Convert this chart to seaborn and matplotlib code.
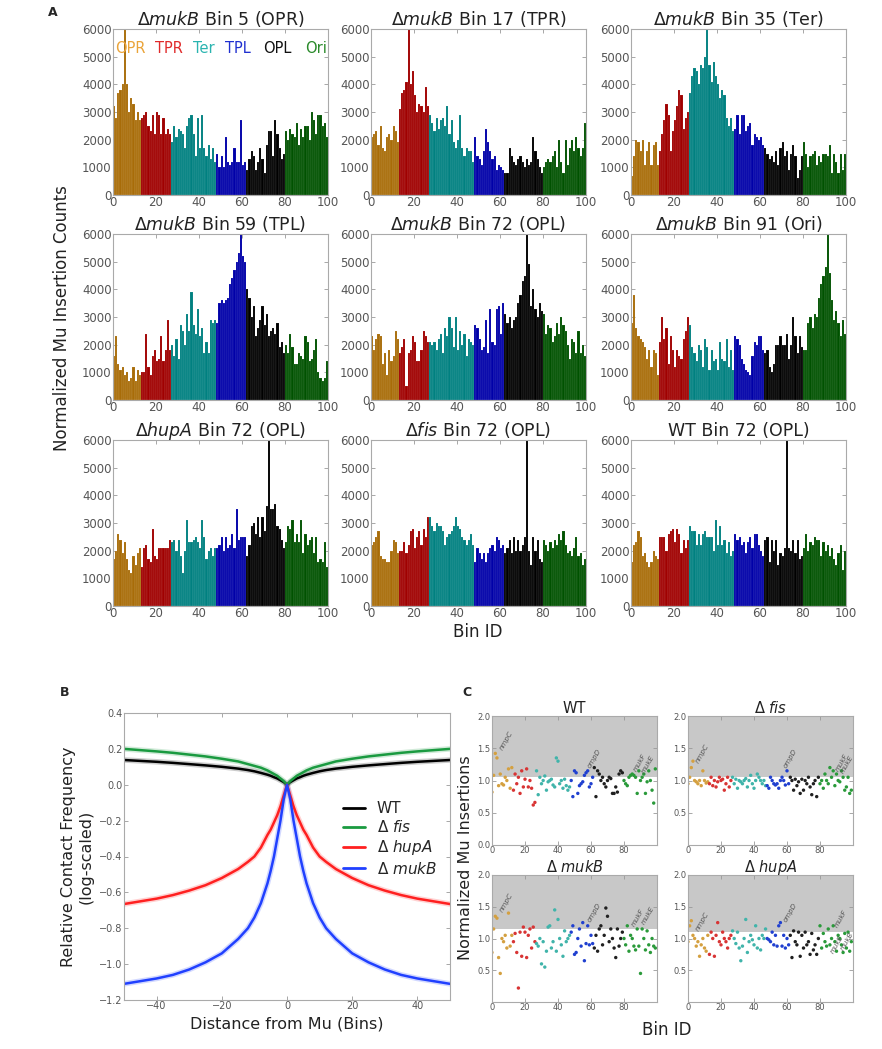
import numpy as np
import pandas as pd
import matplotlib
matplotlib.use("Agg")
import matplotlib.pyplot as plt
import seaborn as sns

# ---------------------------------------------------------------
# data
# ---------------------------------------------------------------
region_names = ["OPR", "TPR", "Ter", "TPL", "OPL", "Ori"]
region_sizes = [13, 14, 21, 14, 18, 20]          # bins per macrodomain
bins = np.arange(100)

# Panel A, Mu insertion counts per bin (in hundreds), bins 0..99
mukB_bin5 = [32, 28, 37, 38, 40, 60, 40, 30, 35, 33, 27, 30, 27,
             28, 29, 30, 25, 23, 29, 22, 30, 29, 22, 28, 22, 24, 22,
             19, 25, 21, 24, 23, 22, 17, 25, 28, 29, 22, 14, 28, 17, 29, 17, 14, 18, 13, 17, 12,
             15, 10, 14, 10, 21, 12, 11, 12, 17, 12, 12, 27, 11, 12,
             9, 13, 16, 14, 9, 12, 17, 13, 8, 18, 23, 23, 14, 27, 22, 17, 13, 15,
             23, 20, 24, 22, 21, 26, 18, 24, 21, 25, 25, 20, 30, 27, 22, 29, 29, 25, 26, 21]
mukB_bin17 = [21, 22, 23, 18, 25, 17, 16, 21, 22, 20, 25, 23, 19,
              31, 37, 38, 41, 60, 40, 45, 36, 30, 33, 32, 30, 39, 32,
              29, 26, 23, 28, 24, 27, 28, 25, 32, 22, 27, 19, 17, 20, 29, 17, 14, 17, 16, 16, 12,
              21, 14, 13, 11, 16, 24, 19, 16, 13, 14, 9, 11, 10, 9,
              8, 8, 17, 14, 12, 11, 13, 14, 12, 10, 13, 11, 12, 21, 16, 13, 10, 8,
              10, 12, 13, 12, 14, 16, 10, 20, 12, 8, 20, 11, 17, 20, 16, 21, 17, 14, 17, 26]
mukB_bin35 = [7, 14, 20, 19, 16, 20, 11, 16, 19, 11, 18, 19, 11,
              16, 22, 27, 33, 29, 16, 23, 27, 32, 38, 36, 24, 28, 30,
              37, 43, 46, 45, 40, 47, 46, 50, 60, 47, 41, 48, 43, 40, 35, 38, 36, 28, 25, 28, 23,
              24, 29, 22, 29, 29, 23, 25, 26, 18, 22, 21, 20, 21, 18,
              17, 15, 13, 14, 12, 16, 11, 17, 19, 14, 16, 9, 15, 18, 14, 6, 9, 14,
              19, 15, 10, 14, 15, 16, 11, 14, 12, 15, 15, 14, 18, 8, 15, 12, 8, 15, 9, 15]
mukB_bin59 = [16, 23, 13, 11, 12, 9, 10, 7, 8, 12, 7, 11, 9,
              10, 10, 24, 12, 9, 16, 18, 14, 15, 23, 14, 18, 29, 18,
              20, 16, 22, 15, 27, 25, 20, 31, 25, 39, 27, 24, 33, 23, 26, 17, 21, 17, 29, 28, 29,
              28, 35, 36, 35, 36, 37, 42, 44, 47, 50, 53, 60, 52, 50,
              40, 37, 30, 34, 23, 26, 29, 34, 27, 31, 23, 25, 26, 24, 28, 19, 21, 17,
              20, 17, 24, 19, 13, 13, 17, 16, 15, 23, 21, 14, 15, 18, 22, 10, 8, 7, 8, 14]
mukB_bin72 = [23, 18, 22, 24, 23, 13, 17, 9, 18, 14, 16, 25, 22,
              17, 19, 22, 5, 17, 18, 23, 21, 14, 14, 18, 25, 23, 21,
              21, 20, 21, 18, 22, 24, 17, 26, 23, 30, 26, 19, 30, 18, 25, 20, 24, 16, 22, 21, 20,
              27, 26, 22, 18, 19, 29, 17, 33, 21, 20, 33, 34, 24, 35,
              31, 28, 30, 26, 29, 30, 35, 38, 43, 45, 60, 49, 34, 40, 33, 30, 35, 32,
              31, 24, 27, 26, 21, 23, 28, 24, 30, 27, 25, 20, 15, 22, 21, 17, 25, 17, 20, 16]
mukB_bin91 = [28, 38, 26, 23, 22, 21, 19, 15, 18, 12, 18, 17, 9,
              21, 30, 22, 26, 13, 23, 18, 12, 18, 16, 15, 22, 25, 30,
              27, 19, 17, 14, 20, 18, 12, 22, 19, 11, 18, 14, 15, 11, 21, 15, 14, 22, 12, 18, 11,
              23, 22, 20, 15, 13, 11, 10, 9, 16, 21, 20, 23, 23, 18,
              17, 18, 12, 10, 13, 20, 20, 23, 20, 20, 24, 15, 20, 30, 23, 17, 23, 19,
              18, 18, 28, 30, 26, 31, 30, 37, 42, 45, 48, 60, 46, 36, 29, 32, 28, 23, 29, 24]
hupA_bin72 = [17, 20, 26, 24, 19, 23, 17, 13, 12, 18, 15, 19, 21,
              14, 21, 22, 17, 16, 28, 18, 17, 21, 21, 21, 21, 21, 24,
              23, 24, 20, 24, 18, 12, 20, 31, 23, 23, 24, 25, 23, 21, 31, 25, 17, 20, 21, 18, 21,
              21, 22, 25, 20, 25, 21, 22, 26, 21, 35, 24, 25, 25, 25,
              18, 22, 29, 30, 26, 32, 25, 32, 27, 36, 60, 35, 35, 37, 29, 28, 24, 21,
              23, 29, 28, 31, 23, 26, 23, 31, 19, 26, 22, 24, 25, 19, 25, 16, 17, 16, 23, 14]
fis_bin72 = [22, 23, 25, 27, 18, 17, 17, 16, 16, 20, 24, 23, 19,
             20, 20, 23, 19, 22, 27, 28, 21, 25, 27, 22, 28, 25, 32,
             32, 29, 27, 30, 29, 29, 27, 22, 25, 26, 27, 29, 32, 29, 28, 25, 24, 22, 24, 26, 22,
             16, 21, 19, 17, 19, 16, 19, 21, 22, 20, 25, 24, 21, 22,
             19, 21, 24, 19, 25, 20, 24, 20, 22, 25, 60, 20, 15, 25, 20, 24, 17, 16,
             24, 22, 20, 23, 21, 24, 22, 26, 24, 27, 22, 19, 20, 18, 21, 25, 18, 19, 15, 17]
wt_bin72 = [16, 22, 23, 27, 25, 18, 19, 16, 14, 16, 20, 18, 17,
            25, 25, 25, 20, 26, 27, 28, 23, 28, 26, 19, 24, 21, 24,
            29, 27, 27, 22, 26, 22, 26, 27, 25, 25, 25, 20, 31, 22, 29, 22, 24, 19, 23, 18, 20,
            26, 24, 25, 22, 23, 19, 23, 25, 21, 26, 26, 22, 20, 18,
            24, 25, 16, 24, 20, 24, 15, 19, 18, 21, 60, 21, 20, 24, 19, 24, 17, 18,
            21, 26, 20, 23, 22, 25, 24, 24, 18, 23, 20, 22, 18, 21, 17, 15, 19, 22, 13, 20]

titles_A = [r"$\it{\Delta mukB}$ Bin 5 (OPR)", r"$\it{\Delta mukB}$ Bin 17 (TPR)",
            r"$\it{\Delta mukB}$ Bin 35 (Ter)", r"$\it{\Delta mukB}$ Bin 59 (TPL)",
            r"$\it{\Delta mukB}$ Bin 72 (OPL)", r"$\it{\Delta mukB}$ Bin 91 (Ori)",
            r"$\Delta\it{hupA}$ Bin 72 (OPL)", r"$\Delta\it{fis}$ Bin 72 (OPL)",
            "WT Bin 72 (OPL)"]
counts_A = [mukB_bin5, mukB_bin17, mukB_bin35, mukB_bin59, mukB_bin72,
            mukB_bin91, hupA_bin72, fis_bin72, wt_bin72]

# Panel B, contact frequency vs distance (one side, curves are symmetric)
distance = [0, 1, 2, 3, 4, 5, 6, 8, 10, 12, 15, 20, 25, 30, 35, 40, 45, 50]
contact_wt = [0, 0.015, 0.025, 0.035, 0.042, 0.05, 0.056, 0.066, 0.075, 0.082,
              0.09, 0.1, 0.108, 0.115, 0.122, 0.128, 0.133, 0.138]
contact_fis = [0, 0.02, 0.035, 0.05, 0.06, 0.07, 0.08, 0.095, 0.105, 0.115,
               0.13, 0.145, 0.158, 0.168, 0.178, 0.186, 0.193, 0.2]
contact_hupA = [0, -0.06, -0.12, -0.17, -0.21, -0.25, -0.28, -0.35, -0.4, -0.43,
                -0.47, -0.52, -0.56, -0.59, -0.615, -0.635, -0.65, -0.665]
contact_mukB = [0, -0.08, -0.2, -0.3, -0.4, -0.48, -0.55, -0.66, -0.74, -0.8,
                -0.86, -0.94, -0.99, -1.03, -1.06, -1.08, -1.095, -1.11]
strains_B = ["WT", r"$\Delta$ $\it{fis}$", r"$\Delta$ $\it{hupA}$", r"$\Delta$ $\it{mukB}$"]

# Panel C, normalized insertions per bin
norm_wt = [0.82, 1.08, 1.42, 1.35, 0.92, 1.1, 0.95, 0.93, 1.05, 1.0, 1.18, 0.88, 1.2,
           0.85, 1.1, 0.95, 1.05, 0.8, 1.15, 0.9, 1.02, 1.18, 0.9, 1.0, 0.88, 0.62, 0.66,
           1.15, 0.78, 1.05, 0.95, 1.0, 1.07, 0.85, 0.98, 1.0, 1.02, 0.93, 0.9, 1.35, 1.3,
           0.95, 1.0, 0.88, 1.02, 0.92, 0.85, 0.9,
           1.0, 0.75, 1.15, 1.12, 0.8, 0.92, 0.95, 0.98, 1.08, 1.12, 1.15, 0.9, 0.95, 1.05,
           1.2, 0.75, 1.15, 1.1, 1.0, 1.05, 0.95, 0.9, 1.0, 1.05, 1.03, 0.8, 0.8, 0.9, 0.82, 1.1, 1.15, 1.12,
           1.0, 0.95, 0.92, 1.05, 1.08, 1.1, 1.08, 1.05, 0.8, 1.15, 1.0, 1.05, 1.1, 0.8, 0.98,
           1.15, 1.0, 0.85, 0.65, 1.18]
norm_fis = [0.95, 1.05, 1.2, 1.3, 1.0, 0.98, 0.95, 1.0, 0.92, 1.15, 1.0, 0.96, 0.98,
            0.95, 1.05, 0.92, 1.0, 0.9, 0.98, 1.05, 1.0, 1.02, 0.85, 0.95, 1.05, 0.9, 1.0,
            1.05, 0.95, 1.02, 0.88, 1.0, 0.98, 0.95, 1.0, 1.03, 0.9, 1.0, 1.08, 0.95, 0.88,
            1.0, 1.1, 1.05, 1.0, 0.95, 1.0, 0.92,
            0.92, 0.88, 1.05, 1.0, 0.95, 0.93, 0.95, 0.88, 1.0, 1.05, 1.0, 0.93, 1.15, 0.95,
            1.05, 1.0, 0.85, 1.02, 0.92, 0.98, 0.8, 1.02, 0.85, 1.0, 0.95, 1.05, 0.9, 0.78, 0.95, 1.0, 0.75, 1.05,
            0.95, 1.0, 0.88, 1.1, 1.0, 0.95, 1.2, 1.05, 1.15, 0.92, 1.1, 1.0, 0.98, 1.15, 1.05,
            0.85, 0.9, 1.05, 0.8, 0.85]
norm_mukB = [0.78, 1.15, 1.35, 1.32, 0.7, 0.45, 1.0, 0.95, 1.05, 0.85, 1.4, 0.88, 1.05,
             0.95, 1.08, 0.78, 0.22, 1.1, 0.72, 1.18, 1.1, 0.7, 1.05, 1.15, 0.85, 1.18, 0.95,
             0.92, 0.88, 1.0, 0.6, 0.95, 0.55, 0.8, 1.18, 1.2, 0.85, 0.95, 1.45, 0.8, 1.3,
             1.0, 0.9, 0.72, 1.12, 0.95, 1.0, 1.05,
             1.1, 1.2, 0.75, 0.78, 1.0, 1.15, 0.88, 1.25, 0.65, 0.92, 1.2, 0.9, 1.05, 0.92,
             0.85, 1.05, 0.8, 1.15, 1.2, 0.9, 1.05, 1.48, 1.35, 0.95, 1.15, 1.0, 0.85, 0.7, 1.15, 0.88, 1.0, 1.1,
             1.0, 0.9, 1.2, 0.8, 1.05, 1.0, 0.88, 0.82, 1.15, 0.88, 0.45, 1.15, 1.0, 0.82, 1.12,
             0.9, 0.78, 1.0, 0.88, 0.85]
norm_hupA = [0.95, 1.2, 1.28, 1.05, 1.0, 0.88, 0.95, 0.72, 0.9, 1.0, 0.85, 0.8, 1.05,
             0.75, 1.1, 1.0, 0.72, 1.05, 1.25, 0.95, 0.9, 1.1, 1.0, 0.95, 0.85, 1.0, 1.05,
             1.12, 1.0, 0.92, 1.1, 0.85, 0.65, 0.88, 1.0, 1.3, 0.78, 0.95, 1.05, 0.98, 0.9,
             1.2, 0.85, 1.0, 0.82, 1.05, 1.0, 1.15,
             1.0, 0.98, 0.95, 1.1, 0.9, 1.05, 0.88, 1.2, 1.25, 0.88, 1.05, 0.85, 1.0, 0.9,
             1.05, 0.7, 1.12, 0.95, 0.9, 1.1, 0.72, 1.05, 0.85, 1.1, 0.9, 0.95, 0.75, 1.08, 0.82, 0.9, 0.75, 1.0,
             1.2, 0.85, 1.08, 0.95, 0.88, 1.15, 0.9, 1.0, 1.2, 0.95, 0.8, 1.05, 1.0, 0.9, 0.78,
             1.08, 0.85, 1.1, 0.8, 0.95]
titles_C = ["WT", r"$\Delta$ $\it{fis}$", r"$\Delta$ $\it{mukB}$", r"$\Delta$ $\it{hupA}$"]
thresholds_C = [1.05, 1.05, 1.155, 1.11]
norm_C = [norm_wt, norm_fis, norm_mukB, norm_hupA]
genes_C = [[(4, 1.45, "nmpC"), (57, 1.18, "ompD"), (85, 1.12, "mukF"), (90, 1.1, "mukE")],
           [(4, 1.25, "nmpC"), (57, 1.18, "ompD"), (89, 1.12, "mukF"), (92, 1.1, "mukE")],
           [(4, 1.4, "nmpC"), (57, 1.25, "ompD"), (84, 1.18, "mukF"), (90, 1.2, "mukE")],
           [(4, 1.1, "nmpC"), (57, 1.25, "ompD"), (88, 1.15, "mukF"), (86, 0.75, "mukE"), (92, 0.8, "mukB")]]

# ---------------------------------------------------------------
# style
# ---------------------------------------------------------------
sns.set_style("white")
plt.rcParams["font.family"] = ["DejaVu Sans"]
plt.rcParams["mathtext.fontset"] = "dejavusans"

bar_colors = dict(zip(region_names, ["#a86c08", "#a00000", "#008080", "#0000a8", "#000000", "#005200"]))
text_colors = dict(zip(region_names, ["#eaa43a", "#e02a2a", "#2ab4b0", "#2030d0", "#111111", "#2a8a2a"]))
dot_colors = dict(zip(region_names, ["#d4a040", "#d83434", "#40b4aa", "#2040d0", "#202020", "#2a9a3a"]))
regions = np.repeat(region_names, region_sizes)

W, H = 882, 1049
fig = plt.figure(figsize=(W / 100, H / 100), dpi=100)


def add_ax(x0, y0, x1, y1):
    return fig.add_axes([x0 / W, 1 - y1 / H, (x1 - x0) / W, (y1 - y0) / H])


def style_ax(ax, size):
    for s in ax.spines.values():
        s.set_color("#aaaaaa")
        s.set_linewidth(0.8)
    ax.tick_params(direction="in", length=3, width=0.6, color="#999999",
                   top=True, right=True, bottom=True, left=True,
                   labelsize=size, labelcolor="#555555", pad=1)


# ---------------------------------------------------------------
# A - 3x3 bar charts
# ---------------------------------------------------------------
col_x = [113, 371, 631]
row_y = [29, 234, 440]
for i, (counts, title) in enumerate(zip(counts_A, titles_A)):
    r, c = divmod(i, 3)
    ax = add_ax(col_x[c], row_y[r], col_x[c] + 215, row_y[r] + 166)
    df = pd.DataFrame({"bin": bins + 0.5, "count": np.array(counts) * 100, "region": regions})
    sns.barplot(data=df, x="bin", y="count", hue="region", hue_order=region_names,
                palette=bar_colors, native_scale=True, dodge=False, width=1,
                errorbar=None, saturation=1, legend=False,
                edgecolor=(1, 1, 1, 0.25), linewidth=0.3, ax=ax)
    ax.set_xlim(0, 100)
    ax.set_ylim(0, 6000)
    ax.set_xticks(range(0, 101, 20))
    ax.set_yticks(range(0, 6001, 1000))
    ax.set_xlabel("")
    ax.set_ylabel("")
    style_ax(ax, 8.5)
    ax.set_title(title, fontsize=12.5, pad=3, color="#222222")
    if i == 0:
        for name, xpos in zip(region_names, [0.01, 0.195, 0.372, 0.521, 0.698, 0.893]):
            ax.text(xpos, 0.88, name, color=text_colors[name], fontsize=10.5,
                    transform=ax.transAxes, va="center", ha="left")

fig.text(48 / W, 1 - 12 / H, "A", fontsize=9, fontweight="bold", va="center")
fig.text(62 / W, 1 - 318 / H, "Normalized Mu Insertion Counts", rotation=90,
         fontsize=12, va="center", ha="center", color="#222222")
fig.text(478 / W, 1 - 632 / H, "Bin ID", fontsize=12, va="center", ha="center", color="#222222")

# ---------------------------------------------------------------
# B - contact frequency curves
# ---------------------------------------------------------------
axB = add_ax(124, 713, 450, 1000)
d = np.array(distance)
rows = []
for name, vals in zip(strains_B, [contact_wt, contact_fis, contact_hupA, contact_mukB]):
    v = np.array(vals)
    xs = np.concatenate([-d[::-1], d[1:]])
    ys = np.concatenate([v[::-1], v[1:]])
    rows.append(pd.DataFrame({"distance": xs, "contact": ys, "strain": name}))
dfB = pd.concat(rows, ignore_index=True)
line_pal = dict(zip(strains_B, ["#000000", "#1a9a40", "#ff2020", "#2040ff"]))
sns.lineplot(data=dfB, x="distance", y="contact", hue="strain", palette=line_pal,
             linewidth=4, alpha=0.2, legend=False, ax=axB)
sns.lineplot(data=dfB, x="distance", y="contact", hue="strain", palette=line_pal,
             linewidth=1.8, ax=axB)
axB.set_xlim(-50, 50)
axB.set_ylim(-1.2, 0.4)
axB.set_xticks([-40, -20, 0, 20, 40])
axB.set_yticks(np.round(np.arange(-1.2, 0.41, 0.2), 1))
style_ax(axB, 7)
axB.set_xlabel("Distance from Mu (Bins)", fontsize=11.5, color="#222222")
axB.set_ylabel("Relative Contact Frequency\n(log-scaled)", fontsize=11.5, color="#222222")
leg = axB.legend(loc="upper left", bbox_to_anchor=(0.63, 0.74), frameon=False,
                 fontsize=11, handlelength=1.4, handletextpad=0.8, labelspacing=0.2)
for h in leg.get_lines():
    h.set_linewidth(2)
fig.text(60 / W, 1 - 693 / H, "B", fontsize=9, fontweight="bold", va="center")

# ---------------------------------------------------------------
# C - normalized insertions scatter
# ---------------------------------------------------------------
boxes_C = [(492, 716, 657, 845), (688, 716, 853, 845),
           (492, 875, 657, 1002), (688, 875, 853, 1002)]
for box, vals, title, thr, genes in zip(boxes_C, norm_C, titles_C, thresholds_C, genes_C):
    ax = add_ax(*box)
    ax.axhspan(thr, 2.0, color="#c8c8c8", zorder=0, lw=0)
    dfC = pd.DataFrame({"bin": bins, "norm": vals, "region": regions})
    sns.scatterplot(data=dfC, x="bin", y="norm", hue="region", hue_order=region_names,
                    palette=dot_colors, s=6, linewidth=0, legend=False, ax=ax)
    for gx, gy, g in genes:
        ax.text(gx, gy, g, rotation=60, fontsize=5, color="#555555",
                ha="left", va="bottom", style="italic")
    ax.set_xlim(0, 100)
    ax.set_ylim(0, 2.0)
    ax.set_xticks([0, 20, 40, 60, 80])
    ax.set_yticks([0.0, 0.5, 1.0, 1.5, 2.0])
    ax.set_yticklabels(["0.0", "0.5", "1.0", "1.5", "2.0"] if box[1] == 716 and box[0] == 492
                       else ["", "0.5", "1.0", "1.5", "2.0"])
    ax.set_xlabel("")
    ax.set_ylabel("")
    style_ax(ax, 6)
    ax.set_title(title, fontsize=10.5, pad=2, color="#222222")

fig.text(462 / W, 1 - 693 / H, "C", fontsize=9, fontweight="bold", va="center")
fig.text(466 / W, 1 - 858 / H, "Normalized Mu Insertions", rotation=90,
         fontsize=11.5, va="center", ha="center", color="#222222")
fig.text(667 / W, 1 - 1030 / H, "Bin ID", fontsize=12, va="center", ha="center", color="#222222")

fig.savefig("out.png", dpi=100)
